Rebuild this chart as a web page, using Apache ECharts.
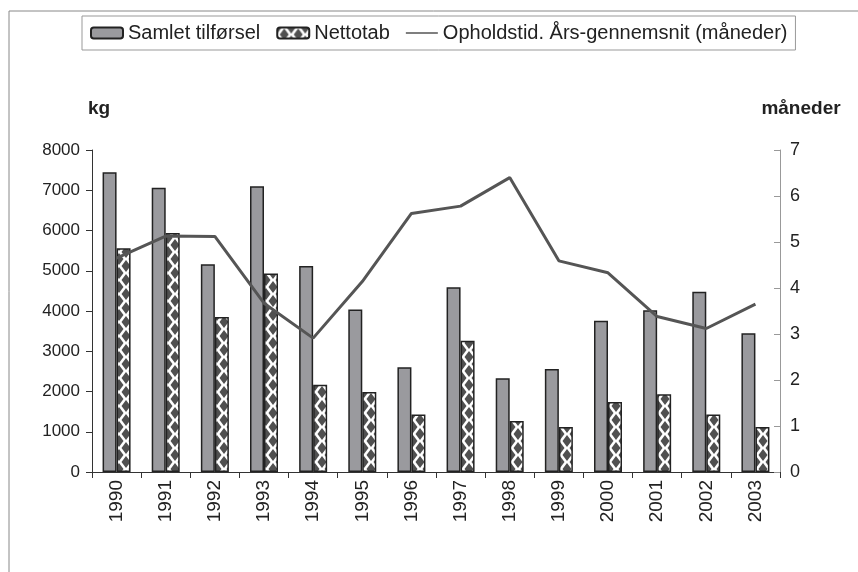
<!DOCTYPE html>
<html>
<head>
<meta charset="utf-8">
<script src="https://cdn.jsdelivr.net/npm/echarts@6/dist/echarts.min.js"></script>
<style>
  html, body { margin: 0; padding: 0; background: #fff; }
  #chart { width: 858px; height: 572px; }
</style>
</head>
<body>
<div id="chart"></div>
<script>
var years = ['1990', '1991', '1992', '1993', '1994', '1995', '1996', '1997', '1998', '1999', '2000', '2001', '2002', '2003'];
var samletTilforsel = [7450, 7060, 5160, 7100, 5120, 4040, 2600, 4590, 2330, 2560, 3760, 4020, 4480, 3450];
var nettotab = [5560, 5940, 3850, 4930, 2170, 1990, 1430, 3260, 1270, 1120, 1740, 1930, 1430, 1120];
var opholdstid = [4.65, 5.13, 5.12, 3.67, 2.91, 4.14, 5.62, 5.78, 6.40, 4.59, 4.33, 3.38, 3.12, 3.65];

var font = 'Liberation Sans, Arial, sans-serif';

// diamond pattern for the Nettotab bars
function makePattern() {
    var c = document.createElement('canvas');
    c.width = 14;
    c.height = 14;
    var ctx = c.getContext('2d');
    ctx.fillStyle = '#fff';
    ctx.fillRect(0, 0, 14, 14);
    ctx.fillStyle = '#505050';
    var pts = [[0, 0], [14, 0], [0, 14], [14, 14], [7, 7]];
    pts.forEach(function(p) {
        ctx.beginPath();
        ctx.moveTo(p[0], p[1] - 6);
        ctx.lineTo(p[0] + 4.5, p[1]);
        ctx.lineTo(p[0], p[1] + 6);
        ctx.lineTo(p[0] - 4.5, p[1]);
        ctx.closePath();
        ctx.fill();
    });
    return c;
}

var chart = echarts.init(document.getElementById('chart'));
var option = {
    backgroundColor: '#fff',
    animation: false,
    textStyle: { fontFamily: font },
    graphic: [
        { type: 'line', shape: { x1: 9, y1: 11, x2: 858, y2: 11 }, style: { stroke: '#888', lineWidth: 1 } },
        { type: 'line', shape: { x1: 9, y1: 11, x2: 9, y2: 572 }, style: { stroke: '#888', lineWidth: 1 } }
    ],
    legend: {
        left: 82,
        top: 16,
        padding: [7, 8, 7, 8],
        itemGap: 16,
        itemWidth: 32,
        itemHeight: 11,
        borderColor: '#999',
        borderWidth: 1,
        textStyle: { fontSize: 20, color: '#222', fontFamily: font },
        data: [
            { name: 'Samlet tilførsel' },
            { name: 'Nettotab' },
            { name: 'Opholdstid. Års-gennemsnit (måneder)', icon: 'path://M0,4 L40,4 L40,6 L0,6 Z' }
        ]
    },
    grid: { left: 92, right: 78, top: 150, bottom: 100 },
    xAxis: {
        type: 'category',
        data: years,
        axisLine: { lineStyle: { color: '#333', width: 1 } },
        axisTick: { show: true, length: 6, interval: 0, lineStyle: { color: '#333' } },
        axisLabel: { rotate: 90, fontSize: 19, color: '#222', margin: 8, interval: 0 }
    },
    yAxis: [
        {
            type: 'value',
            min: 0,
            max: 8000,
            interval: 1000,
            name: 'kg',
            nameLocation: 'end',
            nameGap: 32,
            nameTextStyle: { fontSize: 19, fontWeight: 'bold', color: '#222', padding: [0, 0, 0, 14] },
            splitLine: { show: false },
            axisLine: { show: true, lineStyle: { color: '#333' } },
            axisTick: { show: true, length: 6, lineStyle: { color: '#333' } },
            axisLabel: { fontSize: 17, color: '#222', margin: 12, formatter: function(v) { return String(v); } }
        },
        {
            type: 'value',
            min: 0,
            max: 7,
            interval: 1,
            name: 'måneder',
            nameLocation: 'end',
            nameGap: 32,
            nameTextStyle: { fontSize: 19, fontWeight: 'bold', color: '#222', padding: [0, 0, 0, 42] },
            splitLine: { show: false },
            axisLine: { show: true, lineStyle: { color: '#999' } },
            axisTick: { show: true, length: 6, inside: true, lineStyle: { color: '#999' } },
            axisLabel: { fontSize: 18, color: '#222', margin: 10 }
        }
    ],
    series: [
        {
            name: 'Samlet tilførsel',
            type: 'bar',
            data: samletTilforsel,
            barWidth: 14,
            barGap: '0%',
            itemStyle: { color: '#9a9a9e', borderColor: '#222', borderWidth: 1.5 }
        },
        {
            name: 'Nettotab',
            type: 'bar',
            data: nettotab,
            barWidth: 14,
            itemStyle: { color: { image: makePattern(), repeat: 'repeat' }, borderColor: '#222', borderWidth: 1.5 }
        },
        {
            name: 'Opholdstid. Års-gennemsnit (måneder)',
            type: 'line',
            yAxisIndex: 1,
            data: opholdstid,
            symbol: 'none',
            lineStyle: { color: '#555', width: 3 },
            itemStyle: { color: '#555' }
        }
    ]
};
chart.setOption(option);
</script>
</body>
</html>
